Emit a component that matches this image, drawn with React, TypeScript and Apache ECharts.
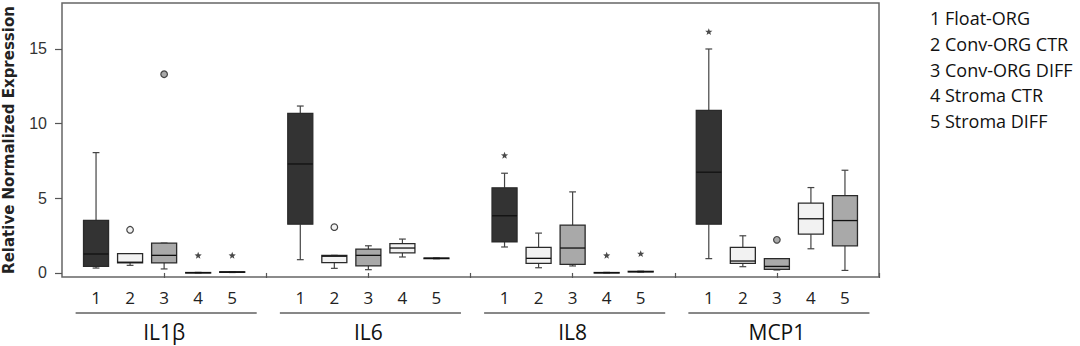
import React, { useEffect, useRef } from 'react';
import * as echarts from 'echarts';

const groups = ['IL1β', 'IL6', 'IL8', 'MCP1'];
const boxNumbers = ['1', '2', '3', '4', '5'];
const boxLabels = ['1 Float-ORG', '2 Conv-ORG CTR', '3 Conv-ORG DIFF', '4 Stroma CTR', '5 Stroma DIFF'];
const boxFills = ['#333333', '#f2f2f2', '#a9a9a9', '#f2f2f2', '#a9a9a9'];
const yTicks = [0, 5, 10, 15];

// each row: [low whisker, Q1, median, Q3, high whisker]
const il1bStats = [
  [0.33, 0.44, 1.27, 3.52, 8.06],
  [0.51, 0.67, 0.72, 1.29, 1.29],
  [0.27, 0.67, 1.18, 2.0, 2.0],
  [0.0, 0.01, 0.02, 0.03, 0.04],
  [0.03, 0.04, 0.06, 0.08, 0.09],
];
const il6Stats = [
  [0.89, 3.27, 7.3, 10.69, 11.18],
  [0.31, 0.69, 1.12, 1.18, 1.18],
  [0.22, 0.47, 1.18, 1.6, 1.82],
  [1.07, 1.34, 1.67, 1.96, 2.27],
  [0.95, 0.96, 0.98, 1.0, 1.01],
];
const il8Stats = [
  [1.74, 2.09, 3.83, 5.7, 6.68],
  [0.35, 0.64, 0.98, 1.71, 2.67],
  [0.47, 0.57, 1.67, 3.21, 5.43],
  [0.0, 0.01, 0.02, 0.03, 0.04],
  [0.06, 0.07, 0.09, 0.11, 0.12],
];
const mcp1Stats = [
  [0.96, 3.27, 6.75, 10.89, 15.0],
  [0.42, 0.64, 0.8, 1.71, 2.49],
  [0.2, 0.24, 0.44, 0.96, 0.96],
  [1.62, 2.6, 3.63, 4.68, 5.72],
  [0.17, 1.82, 3.51, 5.18, 6.88],
];

// outliers: [box number, value]
const il1bCircles = [[2, 2.89], [3, 13.31]];
const il1bStars = [[4, 1.16], [5, 1.16]];
const il6Circles = [[2, 3.07]];
const il6Stars: number[][] = [];
const il8Circles: number[][] = [];
const il8Stars = [[1, 7.86], [4, 1.16], [5, 1.27]];
const mcp1Circles = [[3, 2.22]];
const mcp1Stars = [[1, 16.14]];

const allStats = [il1bStats, il6Stats, il8Stats, mcp1Stats];
const allCircles = [il1bCircles, il6Circles, il8Circles, mcp1Circles];
const allStars = [il1bStars, il6Stars, il8Stars, mcp1Stars];

const SLOTS = 6;
const Y_MIN = -0.27;
const Y_MAX = 18.08;

export default function App() {
  const ref = useRef<HTMLDivElement>(null);

  useEffect(() => {
    if (!ref.current) return;
    const chart = echarts.init(ref.current, null, { renderer: 'svg' });

    const boxData: number[][] = [];
    allStats.forEach((g, gi) => {
      g.forEach((s, bi) => {
        boxData.push([gi * SLOTS + bi + 1, s[0], s[1], s[2], s[3], s[4], bi]);
      });
    });
    const outData: number[][] = [];
    allCircles.forEach((g, gi) => {
      g.forEach(([b, v]) => outData.push([gi * SLOTS + b, v, 0, b - 1]));
    });
    allStars.forEach((g, gi) => {
      g.forEach(([b, v]) => outData.push([gi * SLOTS + b, v, 1, b - 1]));
    });
    const labelValues: number[] = [];
    groups.forEach((_, gi) => boxNumbers.forEach((_, bi) => labelValues.push(gi * SLOTS + bi + 1)));
    const tickValues: number[] = [];
    for (let v = 3; v <= groups.length * SLOTS; v += 3) tickValues.push(v);

    const option: any = {
      animation: false,
      textStyle: { fontFamily: 'Open Sans' },
      grid: {
        left: 62, right: 201, top: 3, bottom: 69,
        outerBoundsMode: 'none', containLabel: false,
        show: true, borderColor: '#666', borderWidth: 1.5, backgroundColor: 'transparent',
      },
      xAxis: {
        type: 'value', min: 0, max: groups.length * SLOTS,
        axisLine: { show: false },
        splitLine: { show: false },
        axisTick: { show: true, length: 5, customValues: tickValues, lineStyle: { color: '#555', width: 1.2 } },
        axisLabel: {
          show: true, customValues: labelValues, margin: 12,
          fontSize: 17, color: '#222', fontFamily: 'Open Sans',
          formatter: (v: number) => boxNumbers[(Math.round(v) % SLOTS) - 1] ?? '',
        },
      },
      yAxis: {
        type: 'value', min: Y_MIN, max: Y_MAX,
        name: 'Relative Normalized Expression', nameLocation: 'middle', nameGap: 46,
        nameTextStyle: { fontSize: 15, fontWeight: 'bold', color: '#222', fontFamily: 'DejaVu Sans' },
        axisLine: { show: false },
        splitLine: { show: false },
        axisTick: { show: true, length: 7, customValues: yTicks, lineStyle: { color: '#555', width: 1.2 } },
        axisLabel: {
          show: true, customValues: yTicks, margin: 15,
          fontSize: 16, color: '#333', fontFamily: 'Liberation Sans',
        },
      },
      series: [
        {
          type: 'custom', clip: false, data: boxData,
          renderItem: (params: any, api: any) => {
            const x = api.value(0);
            const bi = api.value(6);
            const halfW = api.size([0.735, 0])[0] / 2;
            const capW = api.size([0.2, 0])[0] / 2;
            const cx = api.coord([x, 0])[0];
            const yLow = api.coord([x, api.value(1)])[1];
            const yQ1 = api.coord([x, api.value(2)])[1];
            const yMed = api.coord([x, api.value(3)])[1];
            const yQ3 = api.coord([x, api.value(4)])[1];
            const yHigh = api.coord([x, api.value(5)])[1];
            const ls = { stroke: '#444', lineWidth: 1.2 };
            return {
              type: 'group',
              children: [
                { type: 'line', shape: { x1: cx, y1: yHigh, x2: cx, y2: yQ3 }, style: ls },
                { type: 'line', shape: { x1: cx, y1: yQ1, x2: cx, y2: yLow }, style: ls },
                { type: 'line', shape: { x1: cx - capW, y1: yHigh, x2: cx + capW, y2: yHigh }, style: ls },
                { type: 'line', shape: { x1: cx - capW, y1: yLow, x2: cx + capW, y2: yLow }, style: ls },
                {
                  type: 'rect',
                  shape: { x: cx - halfW, y: yQ3, width: halfW * 2, height: Math.max(yQ1 - yQ3, 0.5) },
                  style: { fill: boxFills[bi], stroke: '#2a2a2a', lineWidth: 1.3 },
                },
                { type: 'line', shape: { x1: cx - halfW, y1: yMed, x2: cx + halfW, y2: yMed }, style: { stroke: '#111', lineWidth: 1.3 } },
              ],
            };
          },
        },
        {
          type: 'custom', clip: false, data: outData,
          renderItem: (params: any, api: any) => {
            const p = api.coord([api.value(0), api.value(1)]);
            const kind = api.value(2);
            const bi = api.value(3);
            if (kind === 0) {
              return {
                type: 'circle', shape: { cx: p[0], cy: p[1], r: 3.3 },
                style: { fill: boxFills[bi], stroke: '#444', lineWidth: 1.2 },
              };
            }
            const pts: number[][] = [];
            for (let k = 0; k < 10; k++) {
              const r = k % 2 === 0 ? 3.8 : 1.6;
              const a = -Math.PI / 2 + (k * Math.PI) / 5;
              pts.push([p[0] + r * Math.cos(a), p[1] + r * Math.sin(a)]);
            }
            return { type: 'polygon', shape: { points: pts }, style: { fill: '#4a4a4a' } };
          },
        },
        {
          type: 'custom', clip: false, data: groups.map((_, i) => [i]),
          renderItem: (params: any, api: any) => {
            const gi = api.value(0);
            const base = api.coord([0, Y_MIN])[1];
            const x1 = api.coord([gi * SLOTS + 0.4, 0])[0];
            const x2 = api.coord([gi * SLOTS + 5.72, 0])[0];
            const xc = api.coord([gi * SLOTS + 3, 0])[0];
            return {
              type: 'group',
              children: [
                { type: 'line', shape: { x1, y1: base + 36, x2, y2: base + 36 }, style: { stroke: '#111', lineWidth: 1 } },
                {
                  type: 'text', x: xc, y: base + 55,
                  style: { text: groups[gi], fontSize: 21, fontFamily: 'Open Sans', fill: '#111', align: 'center', verticalAlign: 'middle' },
                },
              ],
            };
          },
        },
      ],
      graphic: boxLabels.map((t, i) => ({
        type: 'text', left: 930, top: 9 + i * 25.8,
        style: { text: t, fontSize: 18, fontFamily: 'Open Sans', fill: '#111' },
      })),
    };
    chart.setOption(option);
    return () => chart.dispose();
  }, []);

  return <div ref={ref} style={{ width: 1080, height: 346, position: 'absolute', left: 0, top: 0, background: '#fff' }} />;
}
